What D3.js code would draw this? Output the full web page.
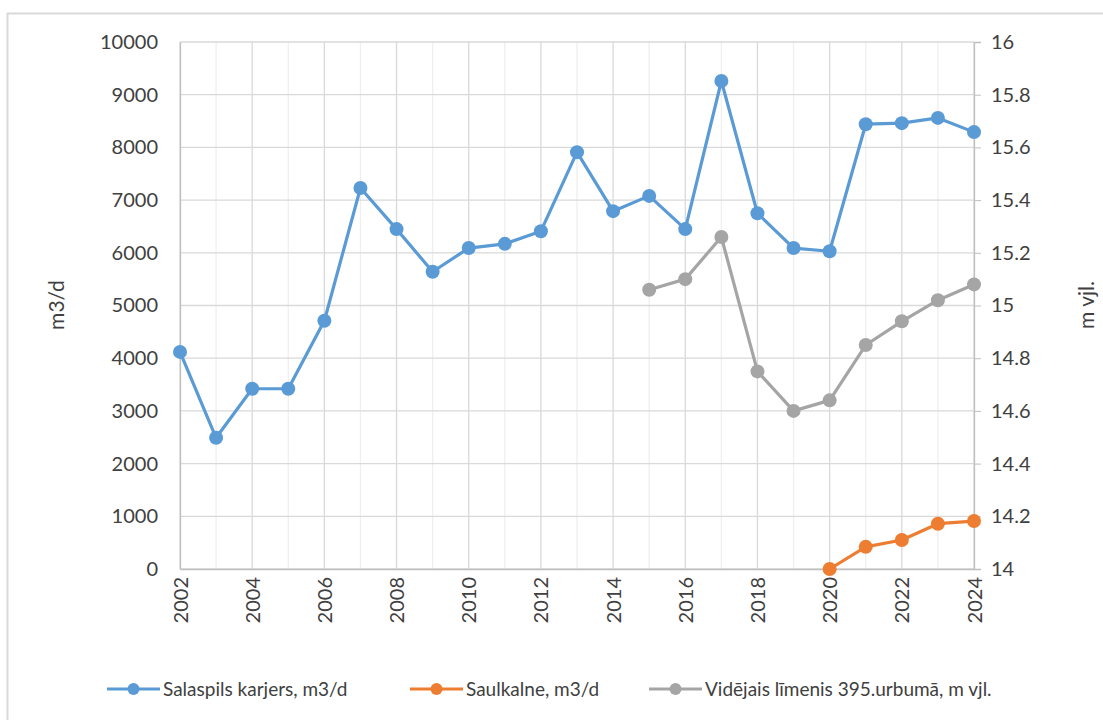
<!DOCTYPE html>
<html><head><meta charset="utf-8">
<script src="https://cdn.jsdelivr.net/npm/d3@7"></script>
<style>
body{margin:0;background:#fff;}
svg{display:block;font-family:Lato,"Open Sans",sans-serif;}
</style></head>
<body><svg id="c" width="1103" height="720"></svg>
<script>
const years = d3.range(2002, 2025);
const salaspils = [4120,2490,3420,3420,4710,7230,6450,5640,6090,6170,6410,7910,6790,7080,6450,9260,6750,6090,6030,8440,8460,8560,8290];
const saulkalneYears = [2020,2021,2022,2023,2024];
const saulkalne = [0,420,550,860,910];
const levelYears = [2015,2016,2017,2018,2019,2020,2021,2022,2023,2024];
const level = [15.06,15.10,15.26,14.75,14.60,14.64,14.85,14.94,15.02,15.08];
const leftTicks = [0,1000,2000,3000,4000,5000,6000,7000,8000,9000,10000];
const rightTicks = [14,14.2,14.4,14.6,14.8,15,15.2,15.4,15.6,15.8,16];
const xTicks = [2002,2004,2006,2008,2010,2012,2014,2016,2018,2020,2022,2024];
const seriesNames = ["Salaspils karjers, m3/d","Saulkalne, m3/d","Vidējais līmenis 395.urbumā, m vjl."];
const colors = ["#5B9BD5","#ED7D31","#A5A5A5"];

const svg = d3.select("#c");
const L=180, R=974, T=42, B=569;
const x = d3.scaleLinear().domain([2002,2024]).range([L,R]);
const yL = d3.scaleLinear().domain([0,10000]).range([B,T]);
const yR = d3.scaleLinear().domain([14,16]).range([B,T]);

// chart border
svg.append("rect").attr("x",7.5).attr("y",13.5).attr("width",1110).attr("height",720)
  .attr("fill","none").attr("stroke","#d9d9d9").attr("stroke-width",2);

// vertical gridlines
svg.append("g").selectAll("line").data(years).join("line")
  .attr("x1",d=>x(d)).attr("x2",d=>x(d)).attr("y1",T).attr("y2",B)
  .attr("stroke",d=>d%2===0?"#d9d9d9":"#efefef").attr("stroke-width",1.3);
// horizontal gridlines
svg.append("g").selectAll("line").data(leftTicks).join("line")
  .attr("x1",L).attr("x2",R).attr("y1",d=>yL(d)).attr("y2",d=>yL(d))
  .attr("stroke","#d9d9d9").attr("stroke-width",1.3);

// left axis
const gL = svg.append("g").attr("transform",`translate(${L},0)`)
  .call(d3.axisLeft(yL).tickValues(leftTicks).tickSize(0).tickPadding(22).tickFormat(d3.format("d")));
gL.select(".domain").attr("stroke","#bfbfbf").attr("stroke-width",1.3);
gL.selectAll("text").attr("font-size",20).attr("fill","#404040").attr("font-family","Lato");

// right axis
const gR = svg.append("g").attr("transform",`translate(${R},0)`)
  .call(d3.axisRight(yR).tickValues(rightTicks).tickSize(7).tickPadding(10).tickFormat(d=>String(+d.toFixed(1))));
gR.select(".domain").attr("stroke","#bfbfbf").attr("stroke-width",1.3);
gR.selectAll(".tick line").attr("stroke","#bfbfbf");
gR.selectAll("text").attr("font-size",20).attr("fill","#404040").attr("font-family","Lato");

// bottom axis
const gB = svg.append("g").attr("transform",`translate(0,${B})`)
  .call(d3.axisBottom(x).tickValues(xTicks).tickSize(0).tickFormat(d3.format("d")));
gB.select(".domain").attr("stroke","#bfbfbf").attr("stroke-width",1.3);
gB.selectAll("text").attr("font-size",20).attr("fill","#404040").attr("font-family","Lato")
  .attr("transform","rotate(-90)").attr("text-anchor","end").attr("dy","0.35em").attr("x",-8).attr("y",0);

// axis titles
svg.append("text").attr("transform","translate(64,305) rotate(-90)").attr("text-anchor","middle")
  .attr("font-size",21).attr("fill","#404040").text("m3/d");
svg.append("text").attr("transform","translate(1094,305) rotate(-90)").attr("text-anchor","middle")
  .attr("font-size",21).attr("fill","#404040").text("m vjl.");

function drawSeries(xs, ys, yScale, color){
  const pts = xs.map((d,i)=>[d,ys[i]]);
  svg.append("path").datum(pts).attr("fill","none").attr("stroke",color).attr("stroke-width",3.2)
    .attr("stroke-linejoin","round")
    .attr("d", d3.line().x(d=>x(d[0])).y(d=>yScale(d[1])));
  svg.append("g").selectAll("circle").data(pts).join("circle")
    .attr("cx",d=>x(d[0])).attr("cy",d=>yScale(d[1])).attr("r",7).attr("fill",color);
}
drawSeries(levelYears, level, yR, colors[2]);
drawSeries(years, salaspils, yL, colors[0]);
drawSeries(saulkalneYears, saulkalne, yL, colors[1]);

// legend
const legX = [107, 410, 649];
const legY = 689;
seriesNames.forEach((n,i)=>{
  const g = svg.append("g");
  g.append("line").attr("x1",legX[i]).attr("x2",legX[i]+53).attr("y1",legY).attr("y2",legY)
    .attr("stroke",colors[i]).attr("stroke-width",3.2);
  g.append("circle").attr("cx",legX[i]+26.5).attr("cy",legY).attr("r",6).attr("fill",colors[i]);
  g.append("text").attr("x",legX[i]+56).attr("y",legY).attr("dy","0.35em")
    .attr("font-size",19).attr("fill","#404040").text(n);
});
</script></body></html>
